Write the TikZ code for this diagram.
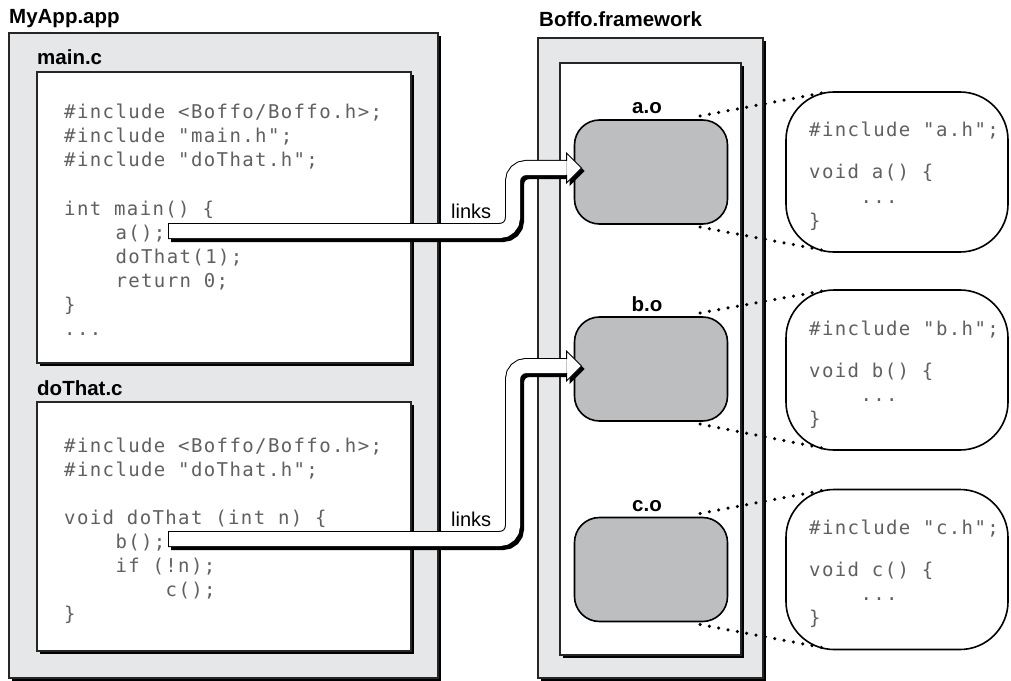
\documentclass[tikz,border=0pt]{standalone}
\usepackage{fontspec}
\setmainfont{Liberation Sans}
\newfontfamily\codefont[LetterSpace=7.3]{DejaVu Sans Mono}
\usetikzlibrary{calc,shadows}

\definecolor{panelgray}{HTML}{E6E7E8}
\definecolor{objgray}{HTML}{BCBEC0}
\definecolor{codegray}{HTML}{5F6062}

\tikzset{
  boxshadow/.style={drop shadow={shadow xshift=3bp, shadow yshift=-3bp, opacity=1, fill=black}},
  panel/.style={fill=panelgray, draw=black!85, line width=1.2bp, boxshadow, anchor=north west, inner sep=0, outer sep=0},
  filebox/.style={fill=white, draw=black!85, line width=1.2bp, boxshadow, anchor=north west, inner sep=0, outer sep=0},
  objbox/.style={draw=black, fill=objgray, line width=1.6bp, rounded corners=25bp, minimum width=153bp, minimum height=104bp, inner sep=0, outer sep=0},
  bubble/.style={draw=black, fill=white, line width=1.6bp, rounded corners=48bp, minimum width=222bp, minimum height=160bp, inner sep=0, outer sep=0},
  code/.style={font=\codefont\fontsize{19bp}{23bp}\selectfont, text=codegray, inner sep=0, anchor=base west},
  title/.style={font=\fontsize{20.5bp}{24bp}\selectfont\bfseries, inner sep=0, anchor=base west},
  linklabel/.style={font=\fontsize{20bp}{24bp}\selectfont, inner sep=0, anchor=base west},
  dots/.style={line width=3.5bp, dash pattern=on 0bp off 9.5bp, line cap=round},
}

\newcommand\cl[4]{\node[code] (#1) at (#2,-#3) {#4};}

% #1 start coordinate, #2 tip coordinate, #3 bend coordinate, #4 prefix
\newcommand\linkarrow[4]{%
  \coordinate (#4h) at ($(#2)+(-15,0)$);
  \coordinate (#4c) at (#3 |- #4h);
  \begin{scope}[transform canvas={shift={(3bp,-3bp)}}]
    \draw[line width=16bp, rounded corners=13bp] (#1) -| (#4c) -- (#4h);
    \fill ($(#4h)+(0,15)$) -- (#2) -- ($(#4h)+(0,-15)$) -- cycle;
  \end{scope}
  \draw[line width=16bp, rounded corners=13bp] (#1) -| (#4c) -- (#4h);
  \draw[white, line width=14bp, rounded corners=13bp] ($(#1)+(1,0)$) -| (#4c) -- (#4h);
  \fill[white] ($(#4h)+(0,7)$) -- ($(#4h)+(0,15)$) -- (#2) -- ($(#4h)+(0,-15)$) -- ($(#4h)+(0,-7)$) -- cycle;
  \draw[line width=1bp, line join=miter] ($(#4h)+(0,7)$) -- ($(#4h)+(0,15)$) -- (#2) -- ($(#4h)+(0,-15)$) -- ($(#4h)+(0,-7)$);
}

\begin{document}
\begin{tikzpicture}[x=1bp,y=1bp]
\useasboundingbox[fill=white] (0,0) rectangle (1011,-681);

% panels
\node[panel, minimum width=429bp, minimum height=645bp] (myapp) at (9,-33) {};
\node[filebox, minimum width=374bp, minimum height=291bp] (mainbox) at (37,-72) {};
\node[filebox, minimum width=374bp, minimum height=249bp] (dothatbox) at (37,-402) {};
\node[panel, minimum width=225bp, minimum height=640bp] (fw) at (538,-38) {};
\node[filebox, minimum width=181bp, minimum height=592bp] (fwin) at (560,-63) {};

% titles
\node[title] (myapptitle) at (9,-24) {MyApp.app};
\node[title] (maintitle) at (37,-65) {main.c};
\node[title] (dothattitle) at (37,-395) {doThat.c};
\node[title] (fwtitle) at (539,-27) {Boffo.framework};

% object files
\node[objbox] (ao) at (651,-172) {};
\node[objbox] (bo) at (651,-369) {};
\node[objbox] (co) at (651,-569.5) {};
\node[title, anchor=base] (aol) at ($(ao.north)+(-4,6)$) {a.o};
\node[title, anchor=base] (bol) at ($(bo.north)+(-4,6)$) {b.o};
\node[title, anchor=base] (col) at ($(co.north)+(-4,6)$) {c.o};

% bubbles
\node[bubble] (abub) at (897,-172) {};
\node[bubble] (bbub) at (897,-370) {};
\node[bubble] (cbub) at (897,-569.5) {};

% main.c code
\cl{m1}{64}{119}{\#include <Boffo/Boffo.h>;}
\cl{m2}{64}{143}{\#include "main.h";}
\cl{m3}{64}{167}{\#include "doThat.h";}
\cl{m4}{64}{215}{int main() \{}
\cl{m5}{115.3}{239}{a();}
\cl{m6}{115.3}{263}{doThat(1);}
\cl{m7}{115.3}{287}{return 0;}
\cl{m8}{64}{311}{\}}
\cl{m9}{64}{335}{...}

% doThat.c code
\cl{d1}{64}{452}{\#include <Boffo/Boffo.h>;}
\cl{d2}{64}{476}{\#include "doThat.h";}
\cl{d3}{64}{524}{void doThat (int n) \{}
\cl{d4}{115.3}{548}{b();}
\cl{d5}{115.3}{572}{if (!n);}
\cl{d6}{165.5}{596}{c();}
\cl{d7}{64}{620}{\}}

% bubble code
\cl{a1}{809}{137}{\#include "a.h";}
\cl{a2}{809}{179}{void a() \{}
\cl{a3}{860.3}{203}{...}
\cl{a4}{809}{227}{\}}
\cl{b1}{809}{335}{\#include "b.h";}
\cl{b2}{809}{377}{void b() \{}
\cl{b3}{860.3}{401}{...}
\cl{b4}{809}{425}{\}}
\cl{c1}{809}{534}{\#include "c.h";}
\cl{c2}{809}{576}{void c() \{}
\cl{c3}{860.3}{600}{...}
\cl{c4}{809}{624}{\}}

% dotted zoom lines
\foreach \o/\b in {ao/abub, bo/bbub, co/cbub}{
  \draw[dots] ($(\o.north east)+(-27.5,4)$) -- ($(\b.north west)+(36,-1)$);
  \draw[dots] ($(\o.south east)+(-27.5,-3)$) -- ($(\b.south west)+(36,2)$);
}

% link arrows
\coordinate (bendx) at (513,0);
\coordinate (acall) at (168,-231);
\coordinate (bcall) at (168,-539);
\coordinate (atip) at ($(ao.west)+(7,4)$);
\coordinate (btip) at ($(bo.west)+(7,3)$);
\linkarrow{acall}{atip}{bendx}{la}
\linkarrow{bcall}{btip}{bendx}{lb}

\node[linklabel] (links1) at (451,-218) {links};
\node[linklabel] (links2) at (451,-526) {links};
\end{tikzpicture}
\end{document}
